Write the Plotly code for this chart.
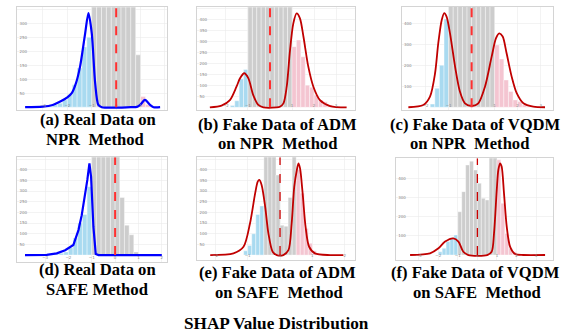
import plotly.graph_objects as go

W, H = 569, 333

# ---------------- data (x in axis units, y = counts) ----------------
# (a) Real data on NPR
A_BIN_X = [-2.7, -2.5, -2.3, -2.1, -1.9, -1.7, -1.5, -1.3, -1.1, -0.9, -0.7, -0.5, -0.3, -0.1,
           0.1, 0.3, 0.5, 0.7, 0.9, 1.1, 1.3]
A_BIN_Y = [3, 8, 14, 26, 45, 80, 140, 215, 250, 600, 600, 600, 600, 600, 600, 600, 600, 600,
           187, 38, 10]
A_KDE_X = [-3.73, -3.0, -2.6, -2.29, -2.0, -1.82, -1.65, -1.48, -1.27, -1.135, -1.0, -0.86,
           -0.73, -0.59, 0.6, 0.85, 0.98, 1.18, 1.39, 1.53, 1.80]
A_KDE_Y = [0, 2, 8, 20, 35, 50, 85, 145, 264, 336, 264, 86, 8, 0, 0, 1, 8, 26, 8, 0, 0]

# (b) Fake data of ADM on NPR
B_BIN_X = [-1.7, -1.5, -1.3, -1.1, -0.9, -0.7, -0.5, -0.3, -0.1, 0.1, 0.3, 0.5, 0.7, 0.9,
           1.1, 1.3, 1.5, 1.7, 1.9, 2.1, 2.3, 2.5, 2.7, 2.9]
B_BIN_Y = [8, 30, 130, 172, 600, 600, 600, 600, 600, 600, 600, 600, 600, 600,
           276, 306, 230, 101, 91, 56, 33, 26, 11, 6]
B_KDE_X = [-2.73, -2.2, -1.82, -1.52, -1.36, -1.17, -0.98, -0.76, -0.53, -0.3, 0.3, 0.45,
           0.61, 0.76, 0.91, 1.06, 1.21, 1.36, 1.52, 1.74, 1.97, 2.27, 2.73, 3.48]
B_KDE_Y = [0, 8, 33, 94, 132, 155, 132, 56, 11, 0, 0, 3, 18, 94, 260, 382, 427, 405, 321,
           185, 94, 33, 6, 0]

# (c) Fake data of VQDM on NPR
C_BIN_X = [-1.7, -1.5, -1.3, -1.1, -0.9, -0.7, -0.5, -0.3, -0.1, 0.1, 0.3, 0.5, 0.7, 0.9,
           1.1, 1.3, 1.5, 1.7, 1.9, 2.1, 2.3, 2.5]
C_BIN_Y = [15, 90, 200, 420, 600, 600, 600, 600, 600, 600, 600, 600, 600, 600,
           297, 230, 130, 75, 35, 27, 11, 5]
C_KDE_X = [-2.75, -2.1, -1.81, -1.59, -1.45, -1.30, -1.19, -1.09, -0.94, -0.72, -0.51, -0.29,
           0.0, 0.29, 0.58, 0.87, 1.06, 1.20, 1.35, 1.52, 1.74, 1.96, 2.25, 2.68, 3.19]
C_KDE_Y = [0, 11, 51, 162, 305, 416, 448, 432, 352, 194, 75, 19, 6, 19, 98, 241, 329, 352,
           337, 257, 146, 67, 19, 3, 0]

# (d) Real data on SAFE
D_BIN_X = [-2.7, -2.5, -2.3, -2.1, -1.9, -1.7, -1.5, -1.3, -1.1, -0.9, -0.7, -0.5, -0.3, -0.1,
           0.1, 0.3, 0.5, 0.7, 0.9]
D_BIN_Y = [3, 5, 8, 15, 35, 80, 150, 190, 320, 600, 600, 600, 600, 600, 600, 270, 140, 95, 15]
D_KDE_X = [-3.86, -2.93, -2.5, -2.14, -1.79, -1.57, -1.43, -1.29, -1.19, -1.1, -1.03, -0.93,
           -0.83, -0.71, 2.0]
D_KDE_Y = [0, 1, 8, 23, 47, 117, 187, 273, 352, 430, 367, 133, 5, 0, 0]

# (e) Fake data of ADM on SAFE
E_BIN_X = [-1.0625, -0.9375, -0.8125, -0.6875, -0.5625, -0.4375, -0.3125, -0.1875, -0.0625,
           0.0625, 0.1875, 0.3125, 0.4375, 0.5625, 0.6875, 0.8125, 0.9375, 1.0625, 1.1875]
E_BIN_Y = [20, 45, 100, 190, 230, 600, 600, 600, 375, 140, 135, 270, 600, 400, 290, 125, 55,
           20, 8]
E_KDE_X = [-2.16, -1.44, -1.13, -0.93, -0.77, -0.69, -0.64, -0.57, -0.46, -0.36, -0.23, -0.1,
           0.1, 0.26, 0.36, 0.44, 0.52, 0.57, 0.62, 0.70, 0.79, 0.90, 1.08, 1.55, 1.96]
E_KDE_Y = [0, 8, 39, 148, 289, 344, 352, 328, 227, 102, 16, 0, 0, 23, 148, 320, 398, 430, 406,
           289, 133, 39, 8, 0, 0]

# (f) Fake data of VQDM on SAFE
F_BIN_X = [-1.9, -1.7, -1.5, -1.3, -1.1, -0.9, -0.7, -0.5, -0.3, -0.1, 0.1, 0.3, 0.5, 0.7,
           0.9, 1.1, 1.3, 1.5, 1.7, 1.9]
F_BIN_Y = [17, 35, 70, 90, 105, 226, 331, 470, 490, 444, 375, 296, 287, 600, 600, 497, 270,
           113, 35, 17]
F_KDE_X = [-3.44, -2.42, -1.99, -1.65, -1.23, -0.97, -0.72, -0.46, 0.5, 0.73, 0.85, 0.99,
           1.07, 1.16, 1.24, 1.36, 1.50, 1.67, 1.93, 2.35, 3.46]
F_KDE_Y = [0, 9, 35, 70, 87, 70, 17, 0, 0, 17, 113, 340, 444, 479, 462, 322, 148, 44, 5, 0, 0]

THRESHOLD = 0.0

LABELS_1 = ["(a) Real Data on", "(b) Fake Data of ADM", "(c) Fake Data of VQDM",
            "(d) Real Data on", "(e) Fake Data of ADM", "(f) Fake Data of VQDM"]
LABELS_2 = ["NPR\u00a0 Method", "on NPR\u00a0 Method", "on NPR\u00a0 Method",
            "SAFE Method", "on SAFE\u00a0 Method", "on SAFE\u00a0 Method"]
TITLE = "SHAP Value Distribution"

# ---------------- layout / style ----------------
panels = [
    dict(bx=A_BIN_X, by=A_BIN_Y, bw=0.2, kx=A_KDE_X, ky=A_KDE_Y, lo=-1.0, hi=1.0,
         dom=(17.3, 166.7, 7.3, 110.0), xr=(-4.05, 2.07), yr=(-10, 357), ydt=50,
         kc="#0000ff", kw=2.2, shape="spline", dc="#ff3030", dw=2.0,
         l1=(97.5, 119.5), l2=(95, 139.5)),
    dict(bx=B_BIN_X, by=B_BIN_Y, bw=0.2, kx=B_KDE_X, ky=B_KDE_Y, lo=-1.0, hi=1.0,
         dom=(197.3, 355.0, 7.3, 110.0), xr=(-3.3, 3.86), yr=(-12, 455), ydt=50,
         kc="#c00000", kw=1.8, shape="spline", dc="#ff3030", dw=2.0,
         l1=(277, 124), l2=(278, 143.5)),
    dict(bx=C_BIN_X, by=C_BIN_Y, bw=0.2, kx=C_KDE_X, ky=C_KDE_Y, lo=-1.0, hi=1.0,
         dom=(401.7, 553.3, 6.7, 110.0), xr=(-3.04, 3.55), yr=(-13, 479), ydt=100,
         kc="#c00000", kw=1.8, shape="spline", dc="#ff3030", dw=2.0,
         l1=(475, 124), l2=(470, 143.5)),
    dict(bx=D_BIN_X, by=D_BIN_Y, bw=0.2, kx=D_KDE_X, ky=D_KDE_Y, lo=-1.0, hi=5.0,
         dom=(17.3, 166.7, 157.3, 261.7), xr=(-4.19, 2.21), yr=(-31, 458), ydt=50,
         kc="#0000ff", kw=2.2, shape="linear", dc="#ff3030", dw=2.0,
         l1=(97.5, 269.5), l2=(97, 289)),
    dict(bx=E_BIN_X, by=E_BIN_Y, bw=0.125, kx=E_KDE_X, ky=E_KDE_Y, lo=-0.5, hi=0.5,
         dom=(197.3, 355.0, 157.3, 260.0), xr=(-2.56, 2.32), yr=(-23, 458), ydt=50,
         kc="#c00000", kw=1.8, shape="spline", dc="#cc0000", dw=1.3,
         l1=(277, 272.5), l2=(278.5, 292.5)),
    dict(bx=F_BIN_X, by=F_BIN_Y, bw=0.2, kx=F_KDE_X, ky=F_KDE_Y, lo=-1.0, hi=1.0,
         dom=(396.0, 553.3, 158.3, 260.0), xr=(-4.16, 3.88), yr=(-26, 505), ydt=100,
         kc="#c00000", kw=1.8, shape="spline", dc="#cc0000", dw=1.3,
         l1=(475, 272.5), l2=(476.5, 292.5)),
]

BLUE, GRAY, PINK = "#a9daf0", "#cdcdcd", "#f4c5d1"

fig = go.Figure()
shapes, annotations = [], []
layout_axes = {}

for i, p in enumerate(panels, start=1):
    xa = "x" if i == 1 else f"x{i}"
    ya = "y" if i == 1 else f"y{i}"
    cols = [BLUE if c < p["lo"] else (PINK if c > p["hi"] else GRAY) for c in p["bx"]]
    fig.add_trace(go.Bar(x=p["bx"], y=p["by"], width=[p["bw"]] * len(p["bx"]),
                         marker=dict(color=cols, line=dict(color="white", width=0.4)),
                         xaxis=xa, yaxis=ya, showlegend=False, hoverinfo="skip"))
    fig.add_trace(go.Scatter(x=p["kx"], y=p["ky"], mode="lines",
                             line=dict(color=p["kc"], width=p["kw"], shape=p["shape"],
                                       smoothing=0.8),
                             xaxis=xa, yaxis=ya, showlegend=False, hoverinfo="skip"))
    x0, x1, yt, yb = p["dom"]
    axis_common = dict(showgrid=True, gridcolor="#ebebeb", gridwidth=0.6, zeroline=False,
                       showline=True, mirror=True, linecolor="#d4d4d4", linewidth=1,
                       ticks="", ticklabelposition="inside",
                       tickfont=dict(size=4, color="#888888", family="DejaVu Sans"))
    layout_axes["xaxis" if i == 1 else f"xaxis{i}"] = dict(
        domain=[x0 / W, x1 / W], range=list(p["xr"]), dtick=1, anchor=ya, **axis_common)
    layout_axes["yaxis" if i == 1 else f"yaxis{i}"] = dict(
        domain=[1 - yb / H, 1 - yt / H], range=list(p["yr"]), dtick=p["ydt"], anchor=xa,
        **axis_common)
    shapes.append(dict(type="line", xref=xa, yref=ya, x0=THRESHOLD, x1=THRESHOLD,
                       y0=0, y1=p["yr"][1], layer="above",
                       line=dict(color=p["dc"], width=p["dw"], dash="dash")))
    for txt, (cx, cy) in ((LABELS_1[i - 1], p["l1"]), (LABELS_2[i - 1], p["l2"])):
        annotations.append(dict(text=f"<b>{txt}</b>", x=cx / W, y=1 - cy / H, xref="paper",
                                yref="paper", xanchor="center", yanchor="middle",
                                showarrow=False, borderpad=0,
                                font=dict(family="Liberation Serif", size=16.6, color="black")))

annotations.append(dict(text=f"<b>{TITLE}</b>", x=276 / W, y=1 - 323.5 / H, xref="paper",
                        yref="paper", xanchor="center", yanchor="middle", showarrow=False,
                        borderpad=0,
                        font=dict(family="Liberation Serif", size=17.2, color="black")))

fig.update_layout(width=W, height=H, margin=dict(l=0, r=0, t=0, b=0),
                  paper_bgcolor="white", plot_bgcolor="white", bargap=0,
                  shapes=shapes, annotations=annotations, **layout_axes)

fig.write_html("out.html", config={"displayModeBar": False, "staticPlot": True},
               post_script="document.body.style.margin='0';document.body.style.padding='0';")
